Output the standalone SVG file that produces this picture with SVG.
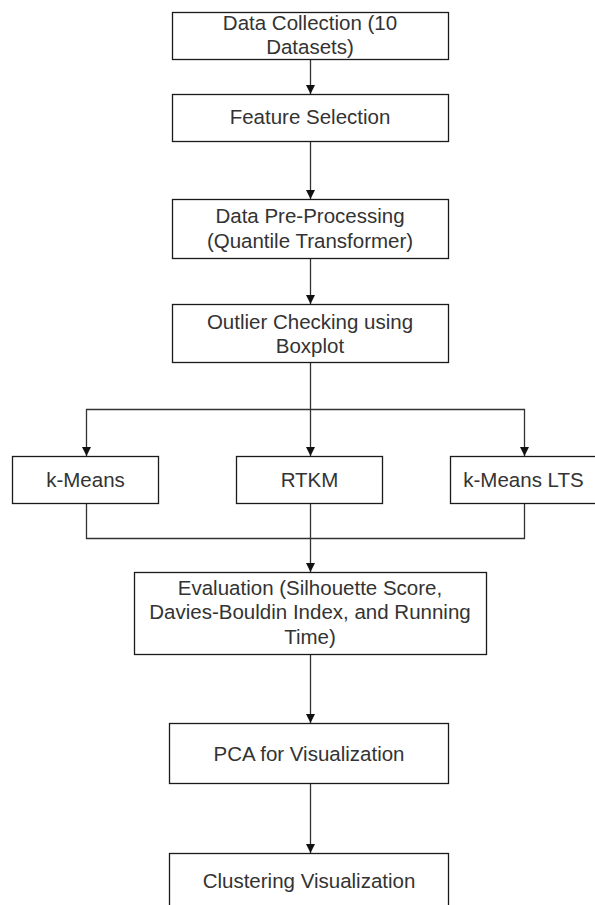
<svg xmlns="http://www.w3.org/2000/svg" width="595" height="905" viewBox="0 0 595 905">
<style>
.box{fill:#fff;stroke:#1a1a1a;stroke-width:1.3}
.t{font-family:"Liberation Sans",Arial,sans-serif;font-size:20.5px;fill:#333;text-anchor:middle}
.c{fill:none;stroke:#333;stroke-width:1.3}
</style>
<defs>
<marker id="ah" markerUnits="userSpaceOnUse" markerWidth="9" markerHeight="10" refX="9" refY="5" orient="auto">
<path d="M0,0.5 L9,5 L0,9.5 z" fill="#111"/>
</marker>
</defs>
<rect width="595" height="905" fill="#fff"/>
<g id="connectors">
<path class="c" d="M310.5,59 V94" marker-end="url(#ah)"/>
<path class="c" d="M310.5,141 V199" marker-end="url(#ah)"/>
<path class="c" d="M310.5,258 V304" marker-end="url(#ah)"/>
<path class="c" d="M310.5,362 V456" marker-end="url(#ah)"/>
<path class="c" d="M310.5,409.5 H86.5 V456" marker-end="url(#ah)"/>
<path class="c" d="M310.5,409.5 H524.5 V456" marker-end="url(#ah)"/>
<path class="c" d="M86.5,503 V538.5 H524.5 V503"/>
<path class="c" d="M310.5,503 V572" marker-end="url(#ah)"/>
<path class="c" d="M310.5,654 V723" marker-end="url(#ah)"/>
<path class="c" d="M310.5,783 V853" marker-end="url(#ah)"/>
</g>
<g id="n1"><rect class="box" x="172.5" y="12.5" width="276" height="47"/><text class="t" x="310" y="30">Data Collection (10</text><text class="t" x="310" y="54.3">Datasets)</text></g>
<g id="n2"><rect class="box" x="172.5" y="94.5" width="276" height="47"/><text class="t" x="310" y="124.3">Feature Selection</text></g>
<g id="n3"><rect class="box" x="172.5" y="199.5" width="276" height="59"/><text class="t" x="310" y="223.3">Data Pre-Processing</text><text class="t" x="310" y="247.5">(Quantile Transformer)</text></g>
<g id="n4"><rect class="box" x="172.5" y="304.5" width="276" height="58"/><text class="t" x="310" y="329">Outlier Checking using</text><text class="t" x="310" y="353">Boxplot</text></g>
<g id="n5"><rect class="box" x="12.5" y="456.5" width="146" height="47"/><text class="t" x="85.5" y="486.5">k-Means</text></g>
<g id="n6"><rect class="box" x="236.5" y="456.5" width="146" height="47"/><text class="t" x="309.5" y="486.5">RTKM</text></g>
<g id="n7"><rect class="box" x="450.5" y="456.5" width="146" height="47"/><text class="t" x="523.5" y="486.5">k-Means LTS</text></g>
<g id="n8"><rect class="box" x="134.5" y="572.5" width="352" height="82"/><text class="t" x="310" y="594.5">Evaluation (Silhouette Score,</text><text class="t" x="310" y="619.3">Davies-Bouldin Index, and Running</text><text class="t" x="310" y="644.3">Time)</text></g>
<g id="n9"><rect class="box" x="169.5" y="723.5" width="279" height="60"/><text class="t" x="309" y="761">PCA for Visualization</text></g>
<g id="n10"><rect class="box" x="169.5" y="853.5" width="279" height="60"/><text class="t" x="309" y="888">Clustering Visualization</text></g>
</svg>
